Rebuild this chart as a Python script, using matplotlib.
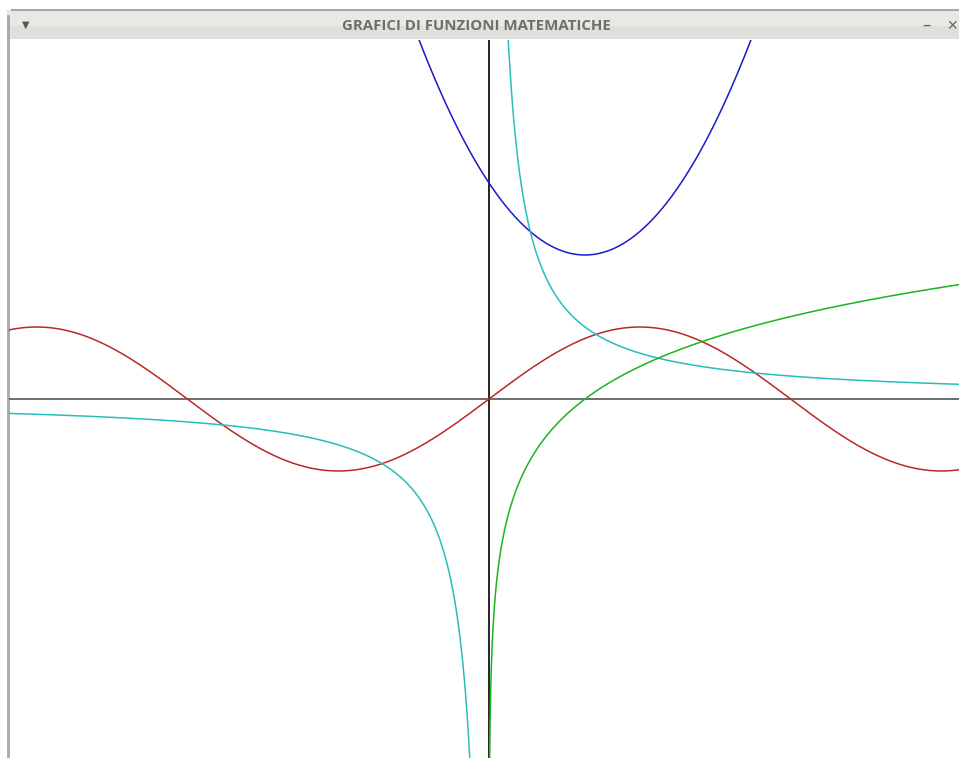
import numpy as np
import matplotlib.pyplot as plt
from matplotlib.patches import Rectangle

# window / canvas geometry (pixels)
W, H = 959, 758
title = "GRAFICI DI FUNZIONI MATEMATICHE"

# view of the plotter: x from -5 .. , 96 px per unit in x, 72 px per unit in y
x_min = -5.0
px_per_x = 96
px_per_y = 72

# functions drawn by the program (coefficients)
parab_coef = [1, -2, 3]          # y = x^2 - 2x + 3  (blue)
sin_amp, sin_freq = 1.0, 1.0     # y = sin(x)        (red)
hyper_k = 1.0                    # y = 1/x           (cyan)
log_base = np.e                  # y = ln(x)         (green)

colors = {"parab": "#1a1ac8", "sin": "#bb2828", "hyper": "#2abcbc", "log": "#1cb41c"}

fig = plt.figure(figsize=(W / 100, H / 100), dpi=100)

# window chrome
chrome = fig.add_axes([0, 0, 1, 1])
chrome.set_xlim(0, W)
chrome.set_ylim(H, 0)
chrome.axis("off")
chrome.add_patch(Rectangle((7, 10), W, 29, facecolor="#dfdfdb", edgecolor="none"))
chrome.add_patch(Rectangle((7, 10), W, 16, facecolor="#e8e8e4", edgecolor="none"))
chrome.plot([12, W], [10, 10], color="#a8a8a8", lw=1.5)
chrome.plot([7.5, 7.5], [16, H], color="#a8a8a8", lw=2)
chrome.text(476, 26, title, ha="center", va="center", fontsize=10.8,
            fontweight="bold", color="#6e6e6e", family="Open Sans")
chrome.text(26, 25, "\u25BC", ha="center", va="center", fontsize=7, color="#555555")
chrome.text(926, 25, "\u2013", ha="center", va="center", fontsize=12, color="#6a6a6a")
chrome.text(952, 26, "\u2715", ha="center", va="center", fontsize=10,
            fontweight="bold", color="#6a6a6a")

# plotting canvas: from x=9 px to right edge, from y=40 px to bottom
left, top = 9, 40
aw, ah = W - left, H - top
ax = fig.add_axes([left / W, 0, aw / W, ah / H])
y_origin_px = 399 - top
ax.set_xlim(x_min, x_min + aw / px_per_x)
ax.set_ylim(-(ah - y_origin_px) / px_per_y, y_origin_px / px_per_y)
ax.axis("off")

ax.axhline(0, color="#555555", lw=1.2)
ax.axvline(0, color="black", lw=1.2)

x = np.linspace(x_min, 5, 3000)
ax.plot(x, np.polyval(parab_coef, x), color=colors["parab"], lw=1.1)
ax.plot(x, sin_amp * np.sin(sin_freq * x), color=colors["sin"], lw=1.1)

xn = np.linspace(x_min, -0.05, 2000)
xp = np.linspace(0.05, 5, 2000)
ax.plot(xn, hyper_k / xn, color=colors["hyper"], lw=1.1)
ax.plot(xp, hyper_k / xp, color=colors["hyper"], lw=1.1)

xl = np.linspace(0.001, 5, 3000)
ax.plot(xl, np.log(xl) / np.log(log_base), color=colors["log"], lw=1.1)

fig.savefig("out.png", dpi=100)
